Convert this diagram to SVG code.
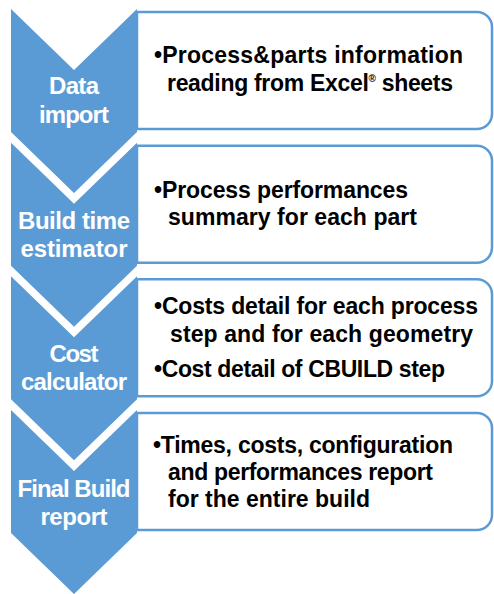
<svg xmlns="http://www.w3.org/2000/svg" width="494" height="594" viewBox="0 0 494 594">
  <style>
    .chev { fill: #5b9bd5; }
    .box { fill: #ffffff; stroke: #5b9bd5; stroke-width: 2.5; }
    .lbl { font-family: "Liberation Sans", Arial, sans-serif; font-weight: bold; font-size: 24px; fill: #ffffff; text-anchor: middle; }
    .txt { font-family: "Liberation Sans", Arial, sans-serif; font-weight: bold; font-size: 23px; fill: #000000; }
  </style>
  <rect width="494" height="594" fill="#ffffff"/>

  <g id="box1">
    <path class="box" d="M137,12 H477 A15,15 0 0 1 492,27 V114 A15,15 0 0 1 477,129 H137 Z"/>
    <text class="txt" x="154" y="63" textLength="309">•Process&amp;parts information</text>
    <text class="txt" x="167" y="91" textLength="286">reading from Excel<tspan font-size="10" dy="-9">®</tspan><tspan dy="9"> sheets</tspan></text>
  </g>
  <g id="box2">
    <path class="box" d="M137,145.7 H477 A15,15 0 0 1 492,160.7 V247.7 A15,15 0 0 1 477,262.7 H137 Z"/>
    <text class="txt" x="154" y="198" textLength="254">•Process performances</text>
    <text class="txt" x="168" y="225" textLength="249">summary for each part</text>
  </g>
  <g id="box3">
    <path class="box" d="M137,279.3 H477 A15,15 0 0 1 492,294.3 V381.3 A15,15 0 0 1 477,396.3 H137 Z"/>
    <text class="txt" x="154" y="314" textLength="324">•Costs detail for each process</text>
    <text class="txt" x="170" y="342" textLength="303">step and for each geometry</text>
    <text class="txt" x="154" y="377" textLength="291">•Cost detail of CBUILD step</text>
  </g>
  <g id="box4">
    <path class="box" d="M137,413 H477 A15,15 0 0 1 492,428 V515 A15,15 0 0 1 477,530 H137 Z"/>
    <text class="txt" x="153" y="453" textLength="300">•Times, costs, configuration</text>
    <text class="txt" x="168" y="480" textLength="265">and performances report</text>
    <text class="txt" x="168" y="507" textLength="202">for the entire build</text>
  </g>

  <g id="step1">
    <path class="chev" d="M11,9 L74,70 L137,9 L137,132 L74,193 L11,132 Z"/>
    <text class="lbl" x="74" y="94" textLength="50">Data</text>
    <text class="lbl" x="74" y="123" textLength="70">import</text>
  </g>
  <g id="step2">
    <path class="chev" d="M11,142.7 L74,203.7 L137,142.7 L137,265.7 L74,326.7 L11,265.7 Z"/>
    <text class="lbl" x="74" y="229" textLength="112">Build time</text>
    <text class="lbl" x="74" y="257" textLength="107">estimator</text>
  </g>
  <g id="step3">
    <path class="chev" d="M11,276.3 L74,337.3 L137,276.3 L137,399.3 L74,460.3 L11,399.3 Z"/>
    <text class="lbl" x="74" y="362" textLength="49">Cost</text>
    <text class="lbl" x="74" y="390" textLength="106">calculator</text>
  </g>
  <g id="step4">
    <path class="chev" d="M11,410 L74,471 L137,410 L137,533 L74,594 L11,533 Z"/>
    <text class="lbl" x="74" y="497" textLength="113">Final Build</text>
    <text class="lbl" x="74" y="525" textLength="67">report</text>
  </g>
</svg>
